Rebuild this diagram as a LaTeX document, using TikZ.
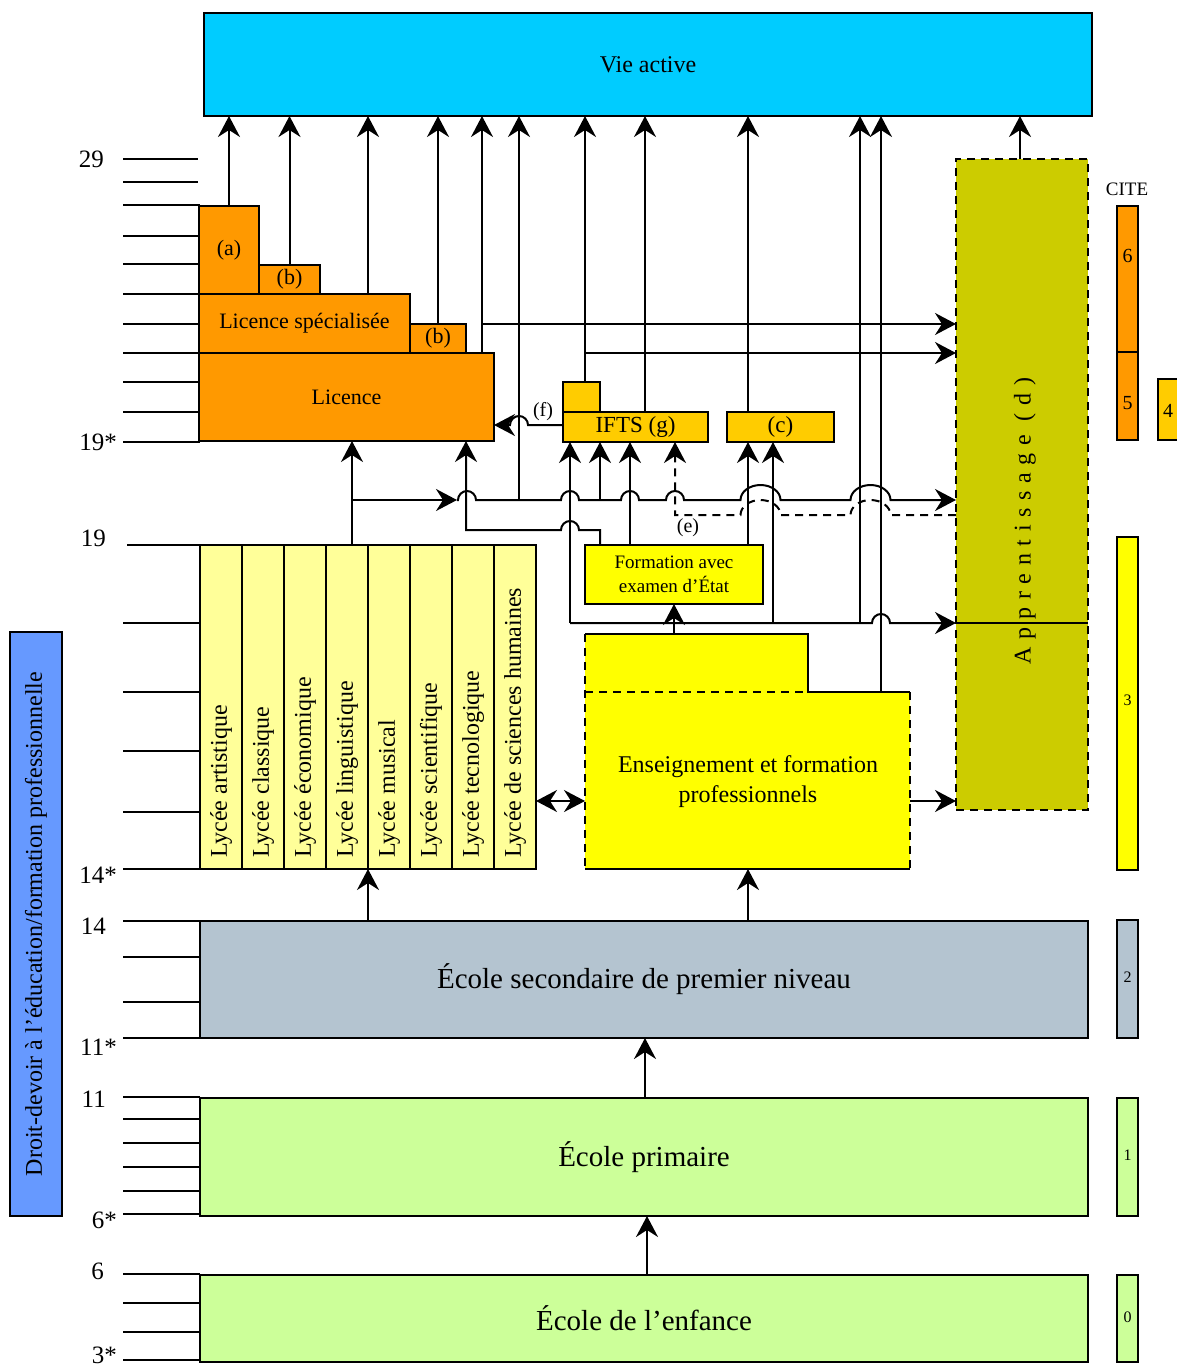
\documentclass[tikz,border=0pt]{standalone}
\usepackage{fontspec}
\setmainfont{Liberation Serif}
\usetikzlibrary{arrows.meta,calc}
\definecolor{cvie}{HTML}{00CCFF}
\definecolor{corange}{HTML}{FF9900}
\definecolor{cgold}{HTML}{FFCC00}
\definecolor{cyel}{HTML}{FFFF00}
\definecolor{clyc}{HTML}{FFFF99}
\definecolor{colive}{HTML}{CCCC00}
\definecolor{cgray}{HTML}{B4C4D0}
\definecolor{cgreen}{HTML}{CCFF99}
\definecolor{cblue}{HTML}{6699FF}
\newcommand\fz[2]{\fontsize{#1}{#2}\selectfont}
\newcommand\mybox[7]{\node[box,fill=#2,minimum width=#5pt,minimum height=#6pt] (#1) at (#3,#4) {#7};}
\begin{document}
\begin{tikzpicture}[x=1pt,y=-1pt,
  box/.style={draw, line width=2pt, inner sep=0pt, outer sep=0pt, anchor=north west, align=center},
  ln/.style={line width=2pt},
  arr/.style={line width=2pt, -{Stealth[length=21pt,width=22pt,inset=7pt]}},
  dbl/.style={line width=2pt, {Stealth[length=21pt,width=22pt,inset=7pt]}-{Stealth[length=21pt,width=22pt,inset=7pt]}},
  dsh/.style={dash pattern=on 8pt off 6pt},
  agetick/.style={line width=2pt},
  age/.style={anchor=east, inner sep=0pt, font=\fz{25}{28}},
  lab/.style={inner sep=0pt, font=\fz{20}{24}},
]
\useasboundingbox (0,0) rectangle (1177,1366);

% ---------- age ticks ----------
\foreach \y in {159,182} \draw[agetick] (123,\y) -- (198,\y);
\foreach \y in {205,236,264,294,324,353,382,412,442,623,692,751,812,869,921,957,1002,1038,1097,1119,1143,1167,1191,1214,1274,1303,1332,1360}
  \draw[agetick] (123,\y) -- (200,\y);
\draw[agetick] (127,545) -- (200,545);
\node[age] (g29) at (104,159) {29};
\node[age] (g19s) at (117,442) {19*};
\node[age] (g19) at (106,538) {19};
\node[age] (g14s) at (117,875) {14*};
\node[age] (g14) at (106,926) {14};
\node[age] (g11s) at (117,1047) {11*};
\node[age] (g11) at (106,1099) {11};
\node[age] (g6s) at (117,1220) {6*};
\node[age] (g6) at (104,1271) {6};
\node[age] (g3s) at (117,1355) {3*};

% ---------- boxes ----------
\mybox{vie}{cvie}{204}{13}{888}{103}{\fz{24}{28}Vie active}
\mybox{a}{corange}{199}{206}{60}{88}{\fz{22}{26}(a)}
\mybox{b1}{corange}{259}{265}{61}{29}{\fz{22}{26}(b)}
\mybox{ls}{corange}{199}{294}{211}{59}{\fz{22}{26}Licence spécialisée}
\mybox{b2}{corange}{410}{324}{56}{29}{\fz{22}{26}(b)}
\mybox{lic}{corange}{199}{353}{295}{88}{\fz{22}{26}Licence}
\mybox{sm}{cgold}{563}{382}{37}{30}{}
\mybox{ifts}{cgold}{563}{412}{145}{30}{\fz{23}{26}IFTS (g)}
\mybox{cc}{cgold}{727}{412}{107}{30}{\fz{23}{26}(c)}
\node[box,fill=cyel,minimum width=178pt,minimum height=59pt,font=\fz{19}{24}] (form) at (585,545) {Formation avec\\examen d’État};
\node[box,fill=colive,dsh,minimum width=132pt,minimum height=651pt] (appr) at (956,159) {};

% Lycées
\foreach \i/\t in {1/{Lycée artistique},2/{Lycée classique},3/{Lycée économique},4/{Lycée linguistique},5/{Lycée musical},6/{Lycée scientifique},7/{Lycée tecnologique},8/{Lycée de sciences humaines}} {
  \pgfmathsetmacro\xx{200+(\i-1)*42}
  \node[box,fill=clyc,minimum width=42pt,minimum height=324pt] (ly\i) at (\xx,545) {};
  \node[rotate=90,anchor=west,inner sep=0pt,font=\fz{24}{28}] (lyt\i) at (\xx+21,858) {\t};
}

% Enseignement et formation professionnels
\node[inner sep=0pt,outer sep=0pt,anchor=north west,minimum width=325pt,minimum height=177pt] (ens) at (585,692) {};
\node[inner sep=0pt,outer sep=0pt,anchor=north west,minimum width=223pt,minimum height=58pt] (enst) at (585,634) {};
\fill[cyel] (enst.north west) -- (enst.north east) -- (enst.south east) -- (ens.north east) -- (ens.south east) -- (ens.south west) -- cycle;
\draw[ln] (ens.south west) -- (ens.south east);
\draw[ln] (enst.north west) -- (enst.north east) -- (enst.south east) -- (ens.north east);
\draw[ln,dsh] (ens.north east) -- (ens.south east);
\draw[ln,dsh] (enst.north west) -- (ens.south west);
\draw[ln,dsh] (ens.north west) -- (enst.south east);
\node[align=center,font=\fz{24}{30}] (enstx) at (748,782) {Enseignement et formation\\professionnels};

\mybox{sec}{cgray}{200}{921}{888}{117}{\fz{29}{34}École secondaire de premier niveau}
\mybox{prim}{cgreen}{200}{1098}{888}{118}{\fz{29}{34}École primaire}
\mybox{enf}{cgreen}{200}{1275}{888}{87}{\fz{29}{34}École de l’enfance}
\mybox{droit}{cblue}{10}{632}{52}{584}{}
\node[rotate=90,font=\fz{24}{28}] (droitt) at (36,924) {Droit-devoir à l’éducation/formation professionnelle};

% CITE
\node[inner sep=0pt,font=\fz{19}{22}] (cite) at (1127,189) {CITE};
\mybox{c6}{corange}{1117}{206}{21}{146}{}
\mybox{c5}{corange}{1117}{352}{21}{88}{}
\mybox{c4}{cgold}{1158}{379}{30}{61}{}
\mybox{c3}{cyel}{1117}{537}{21}{333}{}
\mybox{c2}{cgray}{1117}{920}{21}{118}{}
\mybox{c1}{cgreen}{1117}{1098}{21}{118}{}
\mybox{c0}{cgreen}{1117}{1275}{21}{87}{}
\node[font=\fz{20}{22}] (c6t) at (c6.north |- 0,256) {6};
\node[font=\fz{20}{22}] (c5t) at (c5.north |- 0,403) {5};
\node[font=\fz{20}{22}] (c4t) at (1168,411) {4};
\node[font=\fz{16}{18}] (c3t) at (c3.north |- 0,700) {3};
\node[font=\fz{16}{18}] (c2t) at (c2.north |- 0,977) {2};
\node[font=\fz{16}{18}] (c1t) at (c1.north |- 0,1155) {1};
\node[font=\fz{16}{18}] (c0t) at (c0.north |- 0,1317) {0};

% ---------- arrows to Vie active ----------
\draw[arr] (a.north) -- (a.north |- vie.south);
\draw[arr] (b1.north) -- (b1.north |- vie.south);
\draw[arr] (368,0 |- ls.north) -- (368,0 |- vie.south);
\draw[arr] (b2.north) -- (b2.north |- vie.south);
\draw[arr] (482,0 |- lic.north) -- (482,0 |- vie.south);
\coordinate (j324) at (482,0 |- b2.north);
\draw[arr] (j324) -- (j324 -| appr.west);
\coordinate (j500a) at (519,500);
\draw[arr] (j500a) -- (j500a |- vie.south);
\draw[arr] (585,0 |- sm.north) -- (585,0 |- vie.south);
\coordinate (j353) at (585,0 |- lic.north);
\draw[arr] (j353) -- (j353 -| appr.west);
\draw[arr] (645,0 |- ifts.north) -- (645,0 |- vie.south);
\draw[arr] (748,0 |- cc.north) -- (748,0 |- vie.south);
\coordinate (j623b) at (860,623);
\draw[arr] (j623b) -- (j623b |- vie.south);
\draw[arr] (881,0 |- ens.north) -- (881,0 |- vie.south);
\draw[arr] (1020,0 |- appr.north) -- (1020,0 |- vie.south);

% ---------- middle network ----------
\coordinate (k352) at (352,500);
\coordinate (k457) at (457,500);
\draw[arr] (352,0 |- ly4.north) -- (352,0 |- lic.south);
\draw[arr] (k352) -- (k457);
\draw[arr] (k457) -- (458,500) arc[start angle=180,end angle=360,radius=9]
  -- (561,500) arc[start angle=180,end angle=360,radius=9]
  -- (621,500) arc[start angle=180,end angle=360,radius=9]
  -- (666,500) arc[start angle=180,end angle=360,radius=9]
  -- (740.5,500) arc[start angle=180,end angle=360,x radius=20,y radius=15]
  -- (850.5,500) arc[start angle=180,end angle=360,x radius=20,y radius=15]
  -- (appr.west |- 0,500);
\coordinate (j500b) at (600,500);
\draw[arr] (j500b) -- (j500b |- ifts.south);
% (e) dashed
\coordinate (e0) at (appr.west |- 0,515);
\draw[arr,dsh] (e0) -- (890.5,515) arc[start angle=0,end angle=-180,x radius=20,y radius=15]
  -- (780.5,515) arc[start angle=0,end angle=-180,x radius=20,y radius=15]
  -- (675,515) -- (675,0 |- ifts.south);
\node[lab] (elab) at (688,528) {(e)};
% line y=530
\draw[arr] (600,0 |- form.north) -- (600,530) -- (579,530) arc[start angle=0,end angle=-180,radius=9]
  -- (466,530) -- (466,0 |- lic.south);
% x=570 and y=623
\coordinate (j623a) at (570,623);
\draw[arr] (j623a) -- (j623a |- ifts.south);
\draw[arr] (j623a) -- (872,623) arc[start angle=180,end angle=360,radius=9] -- (appr.west |- 0,623);
\draw[ln] (appr.west |- 0,623) -- (appr.east |- 0,623);
\draw[arr] (630,0 |- form.north) -- (630,0 |- ifts.south);
\draw[arr] (748,0 |- form.north) -- (748,0 |- cc.south);
\coordinate (j623c) at (773,623);
\draw[arr] (j623c) -- (j623c |- cc.south);
\draw[arr] (674,0 |- enst.north) -- (674,0 |- form.south);
% (f)
\draw[arr] (ifts.west |- 0,425) -- (528,425) arc[start angle=0,end angle=-180,radius=9] -- (lic.east |- 0,425);
\node[lab] (flab) at (543,412) {(f)};
% Lycee <-> Enseignement, Enseignement -> Apprentissage
\draw[dbl] (ly8.east |- 0,801) -- (ens.west |- 0,801);
\draw[arr] (ens.east |- 0,801) -- (appr.west |- 0,801);

% Apprentissage label
\node[rotate=90,font=\fz{24}{28}] (apprt) at (1025,521) {\addfontfeature{LetterSpace=32}Apprentissage (d)};

% ---------- lower arrows ----------
\draw[arr] (368,0 |- sec.north) -- (368,0 |- ly4.south);
\draw[arr] (748,0 |- sec.north) -- (748,0 |- ens.south);
\draw[arr] (645,0 |- prim.north) -- (645,0 |- sec.south);
\draw[arr] (647,0 |- enf.north) -- (647,0 |- prim.south);
\end{tikzpicture}
\end{document}
